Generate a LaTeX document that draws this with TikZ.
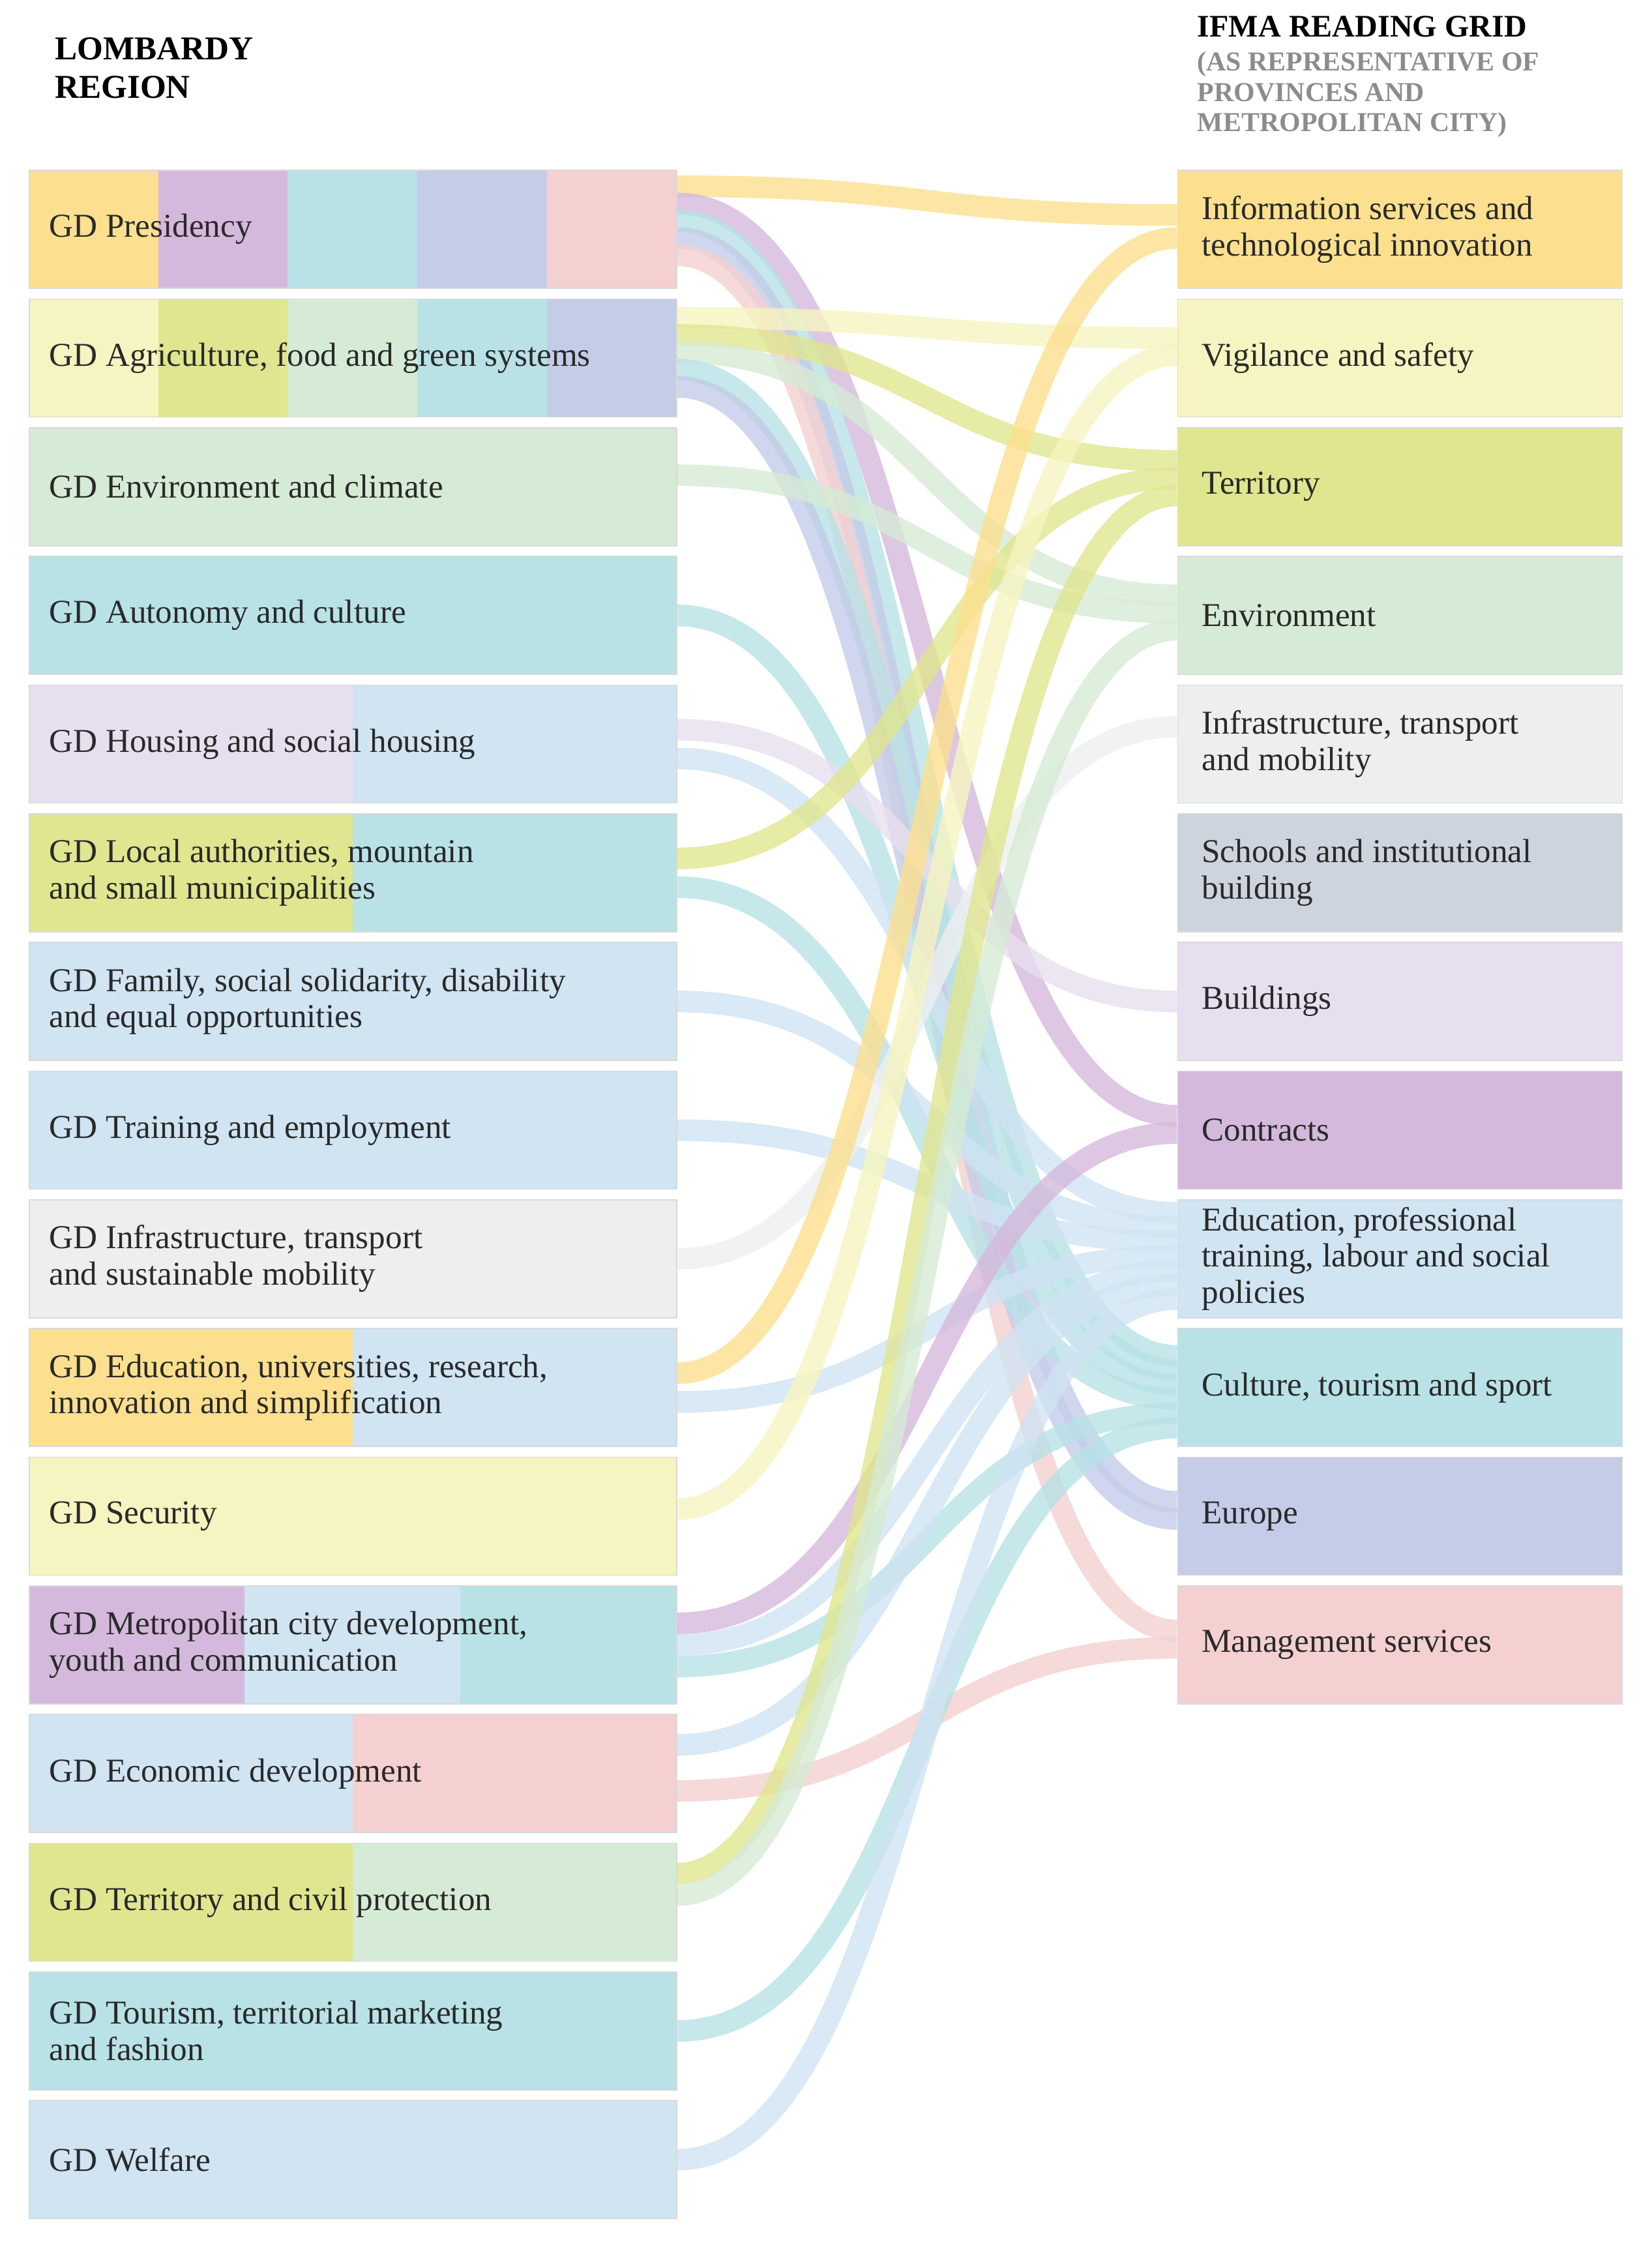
\documentclass[tikz,border=0pt]{standalone}
\usepackage{fontspec}
\setmainfont{Liberation Serif}
\usetikzlibrary{calc}
\definecolor{cOr}{HTML}{FCE08F}
\definecolor{cLy}{HTML}{F6F4C0}
\definecolor{cGr}{HTML}{E0E68F}
\definecolor{cLg}{HTML}{D6EBD5}
\definecolor{cGy}{HTML}{EDEFEF}
\definecolor{cSl}{HTML}{CDD4DE}
\definecolor{cLi}{HTML}{E7DFEF}
\definecolor{cPu}{HTML}{D4B9DC}
\definecolor{cLb}{HTML}{D0E4F2}
\definecolor{cTe}{HTML}{B8E2E6}
\definecolor{cBl}{HTML}{C4CCE8}
\definecolor{cPk}{HTML}{F4D0D0}
\definecolor{cTx}{HTML}{2A2A2A}
\tikzset{
  box/.style={draw=black!15, line width=1pt, minimum width=225mm, minimum height=41mm, anchor=north west, inner sep=0pt},
  rbox/.style={draw=black!15, line width=1pt, minimum width=154.5mm, minimum height=41mm, anchor=north west, inner sep=0pt},
  lab/.style={anchor=west, align=left, text=cTx, font=\fontsize{33}{36}\selectfont, inner sep=0pt},
  band/.style={line width=7.5mm, opacity=0.8}
}
\newcommand{\seg}[4]{\fill[#4] (#2,{118+89.4*#1}) rectangle (#3,{118+89.4*#1+82});}
\newcommand{\flow}[5]{\draw[band,#1] ($(L#2.east)+(0,#3)$) .. controls ($(L#2.east)+(174,#3)$) and ($(R#4.west)+(-174,#5)$) .. ($(R#4.west)+(0,#5)$);}
\begin{document}
\begin{tikzpicture}[x=0.5mm,y=-0.5mm]
\useasboundingbox (0,0) rectangle (1148,1568);
% headers
\node[anchor=north west, align=left, text=black, font=\bfseries\fontsize{33}{38}\selectfont, inner sep=0pt] (hl) at (38,26) {LOMBARDY\\REGION};
\node[anchor=north west, align=left, text=black, font=\bfseries\fontsize{31}{32}\selectfont, inner sep=0pt] (hr) at (832,11) {IFMA READING GRID};
\node[anchor=north west, align=left, text=black!45, font=\bfseries\fontsize{27}{30}\selectfont, inner sep=0pt] (hr2) at (832,36) {(AS REPRESENTATIVE OF\\PROVINCES AND\\METROPOLITAN CITY)};
% left segments
\seg{0}{20}{110}{cOr}\seg{0}{110}{200}{cPu}\seg{0}{200}{290}{cTe}\seg{0}{290}{380}{cBl}\seg{0}{380}{470}{cPk}
\seg{1}{20}{110}{cLy}\seg{1}{110}{200}{cGr}\seg{1}{200}{290}{cLg}\seg{1}{290}{380}{cTe}\seg{1}{380}{470}{cBl}
\seg{2}{20}{470}{cLg}
\seg{3}{20}{470}{cTe}
\seg{4}{20}{245}{cLi}\seg{4}{245}{470}{cLb}
\seg{5}{20}{245}{cGr}\seg{5}{245}{470}{cTe}
\seg{6}{20}{470}{cLb}
\seg{7}{20}{470}{cLb}
\seg{8}{20}{470}{cGy}
\seg{9}{20}{245}{cOr}\seg{9}{245}{470}{cLb}
\seg{10}{20}{470}{cLy}
\seg{11}{20}{170}{cPu}\seg{11}{170}{320}{cLb}\seg{11}{320}{470}{cTe}
\seg{12}{20}{245}{cLb}\seg{12}{245}{470}{cPk}
\seg{13}{20}{245}{cGr}\seg{13}{245}{470}{cLg}
\seg{14}{20}{470}{cTe}
\seg{15}{20}{470}{cLb}
% left boxes and labels
\foreach \i/\t in {0/GD Presidency,1/{GD Agriculture, food and green systems},2/GD Environment and climate,3/GD Autonomy and culture,4/GD Housing and social housing,5/{GD Local authorities, mountain\\and small municipalities},6/{GD Family, social solidarity, disability\\and equal opportunities},7/GD Training and employment,8/{GD Infrastructure, transport\\and sustainable mobility},9/{GD Education, universities, research,\\innovation and simplification},10/GD Security,11/{GD Metropolitan city development,\\youth and communication},12/GD Economic development,13/GD Territory and civil protection,14/{GD Tourism, territorial marketing\\and fashion},15/GD Welfare}{
  \node[box] (L\i) at (20,{118+89.4*\i}) {};
  \node[lab] (LT\i) at ($(L\i.west)+(14,0)$) {\t};
}
% right boxes
\foreach \i/\c/\t in {0/cOr/{Information services and\\technological innovation},1/cLy/Vigilance and safety,2/cGr/Territory,3/cLg/Environment,4/cGy/{Infrastructure, transport\\and mobility},5/cSl/{Schools and institutional\\building},6/cLi/Buildings,7/cPu/Contracts,8/cLb/{Education, professional\\training, labour and social\\policies},9/cTe/{Culture, tourism and sport},10/cBl/Europe,11/cPk/Management services}{
  \node[rbox, fill=\c] (R\i) at (818,{118+89.4*\i}) {};
  \node[lab] (RT\i) at ($(R\i.west)+(17,0)$) {\t};
}
% flows
\flow{cOr}{0}{-30}{0}{-10}
\flow{cPu}{0}{-18}{7}{-10}
\flow{cTe}{0}{-6}{9}{-22}
\flow{cBl}{0}{6}{10}{-10}
\flow{cPk}{0}{18}{11}{-10}
\flow{cLy}{1}{-28}{1}{-14}
\flow{cGr}{1}{-16}{2}{-18}
\flow{cLg}{1}{-4}{3}{-14}
\flow{cTe}{1}{8}{9}{-12}
\flow{cBl}{1}{20}{10}{2}
\flow{cLg}{2}{-8}{3}{-2}
\flow{cTe}{3}{0}{9}{-2}
\flow{cLi}{4}{-10}{6}{0}
\flow{cLb}{4}{10}{8}{-32}
\flow{cGr}{5}{-10}{2}{-6}
\flow{cTe}{5}{10}{9}{8}
\flow{cLb}{6}{0}{8}{-22}
\flow{cLb}{7}{0}{8}{-12}
\flow{cGy}{8}{0}{4}{-12}
\flow{cOr}{9}{-10}{0}{6}
\flow{cLb}{9}{10}{8}{-2}
\flow{cLy}{10}{-5}{1}{-2}
\flow{cPu}{11}{-15}{7}{2}
\flow{cLb}{11}{0}{8}{8}
\flow{cTe}{11}{15}{9}{18}
\flow{cLb}{12}{-20}{8}{18}
\flow{cPk}{12}{12}{11}{2}
\flow{cGr}{13}{-20}{2}{6}
\flow{cLg}{13}{-5}{3}{10}
\flow{cTe}{14}{0}{9}{28}
\flow{cLb}{15}{0}{8}{28}
\end{tikzpicture}
\end{document}
